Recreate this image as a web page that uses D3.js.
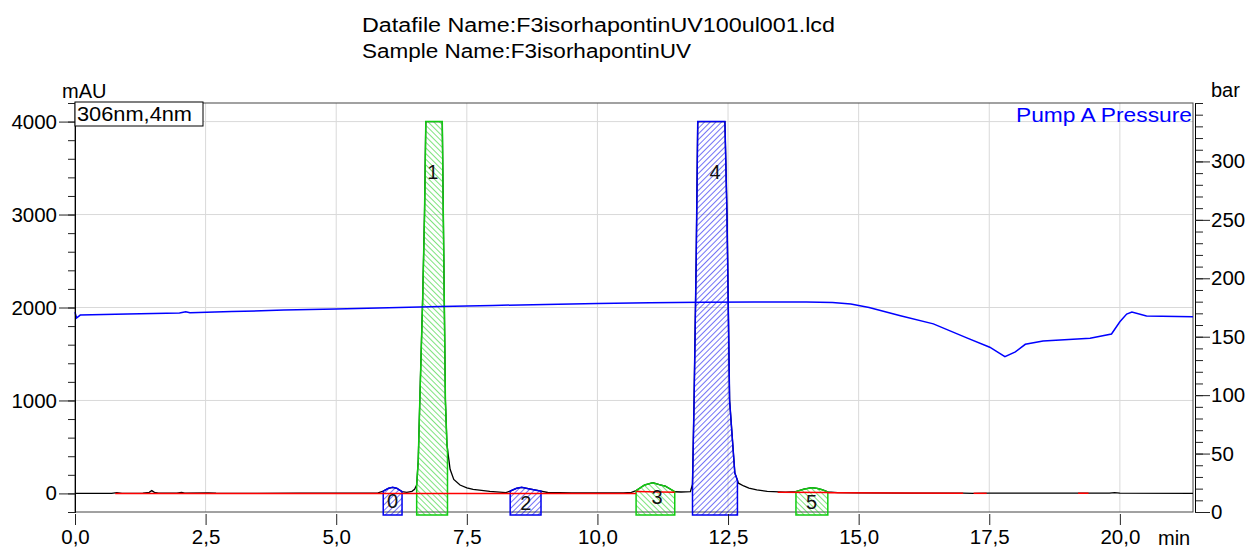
<!DOCTYPE html>
<html>
<head>
<meta charset="utf-8">
<script src="https://cdnjs.cloudflare.com/ajax/libs/d3/7.8.5/d3.min.js"></script>
<style>
	body { margin: 0; background: #fff; }
	text { font-family: "Liberation Sans", Arial, sans-serif; }
</style>
</head>
<body>
<svg id="chart" width="1250" height="549"></svg>
<script>

// ---- data ----
var titleLines = ["Datafile Name:F3isorhapontinUV100ul001.lcd", "Sample Name:F3isorhapontinUV"];

// UV trace at 306nm: [min, mAU] (detector saturates at 4000)
var chromatogram = [
	[0,0],[0.7,0],[0.8,8],[0.9,1],[1.3,2],[1.42,12],[1.47,30],[1.52,12],[1.6,4],[1.95,4],[2.04,10],[2.1,3],
	[2.55,5],[2.7,2],[3.5,1],[4.3,4],[4.5,2],[5.0,2],[5.5,3],[5.8,6],[5.9,25],[6.0,55],[6.08,65],[6.16,55],
	[6.26,20],[6.35,12],[6.45,22],[6.5,45],[6.54,90],[6.57,350],[6.6,1000],[6.655,2100],[6.69,3000],[6.715,4000],
	[7.03,4000],[7.05,3000],[7.09,1000],[7.12,520],[7.18,260],[7.25,150],[7.37,90],[7.5,60],[7.62,43],[7.94,22],
	[8.25,8],[8.33,25],[8.45,55],[8.55,65],[8.7,48],[8.85,32],[8.92,25],[9.05,10],[9.5,6],[10.0,5],[10.5,6],
	[10.65,12],[10.74,30],[10.9,90],[11.06,115],[11.2,92],[11.3,78],[11.4,45],[11.48,18],[11.6,15],[11.78,18],
	[11.82,100],[11.85,1000],[11.89,2500],[11.92,4000],[12.44,4000],[12.48,3000],[12.53,1000],[12.63,220],
	[12.7,110],[12.8,80],[12.9,58],[13.05,38],[13.25,22],[13.6,14],[13.8,20],[13.95,45],[14.1,62],[14.2,55],
	[14.3,40],[14.41,16],[14.6,8],[15,5],[16,4],[17,3],[17.2,0],[17.5,2],[19.8,2],[19.9,8],[20.0,2],[21.4,1]
];

// Pump A pressure: [min, bar]
var pressure = [
	[0,171],[0.03,166],[0.1,168.5],[1.0,169.5],[2.0,170.3],[2.12,171.3],[2.2,170.5],[3.0,171.5],[4.0,172.8],
	[5.0,173.8],[6.0,174.8],[7.0,175.8],[8.0,176.8],[9.0,177.6],[10.0,178.4],[11.0,179],[12.0,179.5],
	[13.0,179.8],[14.0,179.8],[14.5,179.3],[14.85,178],[15.2,175],[15.8,168],[16.43,161],[17.07,149],
	[17.51,141],[17.8,133],[18.0,137],[18.19,143.5],[18.53,146.3],[19.43,148.6],[19.84,152.3],[20.0,162.8],
	[20.13,169.4],[20.23,171.1],[20.51,167.7],[21.4,167.1]
];

// integrated peaks
var peakIds    = [0, 1, 2, 3, 4, 5];
var peakStart  = [5.90, 6.54, 8.33, 10.74, 11.82, 13.80];
var peakEnd    = [6.26, 7.13, 8.92, 11.48, 12.68, 14.41];
var peakLabelT = [6.08, 6.85, 8.63, 11.14, 12.25, 14.10];
var peakLabelV = [-80, 3460, -98, -40, 3460, -93];
var peakKind   = ["b", "g", "b", "g", "b", "g"];

// red integration baselines: [t0, v0, t1, v1]
var baselines = [
	[0.77,0, 10.74,0],
	[10.74,20, 11.48,12],
	[13.45,12, 14.41,10],
	[14.41,6, 17.0,3],
	[17.2,1, 17.45,1],
	[19.2,2, 19.4,2]
];

var timeMajor = [0, 2.5, 5, 7.5, 10, 12.5, 15, 17.5, 20];
var mauMajor  = [0, 1000, 2000, 3000, 4000];
var barMajor  = [0, 50, 100, 150, 200, 250, 300];

// ---- drawing ----
var svg = d3.select("#chart");
var L = 75, R = 1193, T = 103, B = 512;

var x = d3.scaleLinear().domain([0, 21.4]).range([L, R]);
var y = d3.scaleLinear().domain([-200, 4200]).range([B, T]);
var yb = d3.scaleLinear().domain([0, 350]).range([B, T]);

var defs = svg.append("defs");
function hatch(id, col, ang) {
	var p = defs.append("pattern").attr("id", id)
		.attr("patternUnits", "userSpaceOnUse")
		.attr("width", 4).attr("height", 4)
		.attr("patternTransform", "rotate(" + ang + ")");
	p.append("line").attr("x1", 0).attr("y1", 0).attr("x2", 0).attr("y2", 4)
		.attr("stroke", col).attr("stroke-width", 1.1);
}
hatch("hg", "#11cc11", -45);
hatch("hb", "#0000ee", 45);

// grid
svg.append("g").selectAll("line").data(timeMajor.slice(1)).enter().append("line")
	.attr("x1", d => x(d)).attr("x2", d => x(d)).attr("y1", T).attr("y2", B)
	.attr("stroke", "#d9d9d9");
svg.append("g").selectAll("line").data(mauMajor.slice(1)).enter().append("line")
	.attr("x1", L).attr("x2", R).attr("y1", d => y(d)).attr("y2", d => y(d))
	.attr("stroke", "#d9d9d9");

svg.append("rect").attr("x", L).attr("y", T).attr("width", R - L).attr("height", B - T)
	.attr("fill", "none").attr("stroke", "#444");

// title
svg.selectAll(".title").data(titleLines).enter().append("text")
	.attr("x", 362).attr("y", (d, i) => 32 + i * 26)
	.attr("font-size", 19.5)
	.attr("textLength", (d, i) => i == 0 ? 473 : 329)
	.attr("lengthAdjust", "spacingAndGlyphs")
	.text(d => d);

// linear interpolation on the trace
var bis = d3.bisector(d => d[0]).left;
function valAt(t) {
	var i = bis(chromatogram, t);
	if (i <= 0) return chromatogram[0][1];
	var a = chromatogram[i - 1], b = chromatogram[i];
	return a[1] + (b[1] - a[1]) * (t - a[0]) / (b[0] - a[0]);
}

var line = d3.line().x(d => x(d[0])).y(d => y(d[1]));

// chromatogram
svg.append("path").datum(chromatogram).attr("d", line)
	.attr("fill", "none").attr("stroke", "#000").attr("stroke-width", 1.3);

// hatched peak areas
var yBottom = B + 3;
peakIds.forEach(function(id, k) {
	var s = peakStart[k], e = peakEnd[k];
	var pts = [[x(s), yBottom], [x(s), y(valAt(s))]];
	chromatogram.forEach(function(d) {
		if (d[0] > s && d[0] < e) pts.push([x(d[0]), y(d[1])]);
	});
	pts.push([x(e), y(valAt(e))], [x(e), yBottom]);
	var col = peakKind[k] == "g" ? "#11cc11" : "#0000ee";
	svg.append("path")
		.attr("d", "M" + pts.join("L") + "Z")
		.attr("fill", "url(#h" + peakKind[k] + ")")
		.attr("stroke", col).attr("stroke-width", 1.5);
});

// red baselines
svg.append("g").selectAll("line").data(baselines).enter().append("line")
	.attr("x1", d => x(d[0])).attr("y1", d => y(d[1]))
	.attr("x2", d => x(d[2])).attr("y2", d => y(d[3]))
	.attr("stroke", "#ff0000").attr("stroke-width", 1.5);

// pressure
var pline = d3.line().x(d => x(d[0])).y(d => yb(d[1]));
svg.append("path").datum(pressure).attr("d", pline)
	.attr("fill", "none").attr("stroke", "#0000ff").attr("stroke-width", 1.5);

// peak labels
svg.append("g").selectAll("text").data(peakIds).enter().append("text")
	.attr("x", (d, i) => x(peakLabelT[i])).attr("y", (d, i) => y(peakLabelV[i]))
	.attr("dy", "0.35em").attr("text-anchor", "middle")
	.attr("font-size", 20).attr("fill", "#111")
	.text(d => d);

// axes
var fmtT = d => d3.format(".1f")(d).replace(".", ",");

var gx = svg.append("g").attr("transform", "translate(0," + (B + 2) + ")");
gx.call(d3.axisBottom(x).tickValues(d3.range(0, 43).map(i => i * 0.5)).tickSize(6).tickFormat(""));
gx.call(d3.axisBottom(x).tickValues(timeMajor).tickSize(11).tickPadding(4).tickFormat(fmtT));
gx.selectAll(".domain").remove();

var gy = svg.append("g").attr("transform", "translate(" + L + ",0)");
gy.append("g").call(d3.axisLeft(y).tickValues(d3.range(-1, 22).map(i => i * 200)).tickSize(7).tickFormat(""));
gy.append("g").call(d3.axisLeft(y).tickValues(mauMajor).tickSize(16).tickPadding(2).tickSizeOuter(0).tickFormat(d3.format("d")));
gy.selectAll(".domain").attr("stroke", "#000");

var gr = svg.append("g").attr("transform", "translate(" + (R + 2) + ",0)");
gr.append("g").call(d3.axisRight(yb).tickValues(d3.range(0, 36).map(i => i * 10)).tickSize(8).tickFormat(""));
gr.append("g").call(d3.axisRight(yb).tickValues(barMajor).tickSize(15).tickPadding(1).tickSizeOuter(0).tickFormat(d3.format("d")));

svg.selectAll(".tick text").attr("font-size", 20.5).attr("fill", "#000")
	.style("font-family", "'Liberation Sans', Arial, sans-serif");
svg.selectAll(".tick line").attr("stroke", "#222");

// axis titles
svg.append("text").attr("x", 62).attr("y", 98).attr("font-size", 20).text("mAU");
svg.append("text").attr("x", 1211).attr("y", 97).attr("font-size", 20).text("bar");
svg.append("text").attr("x", 1158).attr("y", 545).attr("font-size", 20).text("min");

// channel box and pressure legend
svg.append("rect").attr("x", L).attr("y", 102).attr("width", 128).attr("height", 24)
	.attr("fill", "#fff").attr("stroke", "#000");
svg.append("text").attr("x", 77).attr("y", 121).attr("font-size", 20)
	.attr("textLength", 115).attr("lengthAdjust", "spacingAndGlyphs").text("306nm,4nm");
svg.append("text").attr("x", 1016).attr("y", 122).attr("font-size", 20)
	.attr("textLength", 176).attr("lengthAdjust", "spacingAndGlyphs")
	.attr("fill", "#0000ff").text("Pump A Pressure");

</script>
</body>
</html>
